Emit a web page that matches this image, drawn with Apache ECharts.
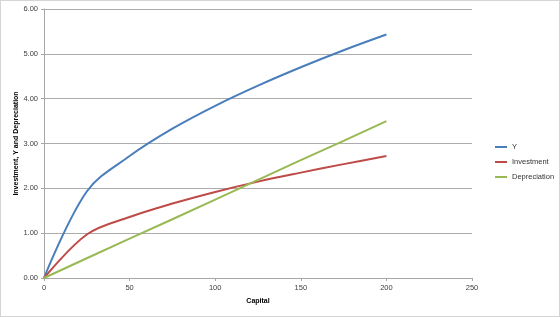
<!DOCTYPE html>
<html>
<head>
<meta charset="utf-8">
<script src="https://cdn.jsdelivr.net/npm/echarts@6/dist/echarts.min.js"></script>
<style>
    html, body { margin: 0; padding: 0; background: #fff; }
    #chart { width: 560px; height: 317px; box-sizing: border-box; border: 1px solid #d4d4d4; }
</style>
</head>
<body>
<div id="chart"></div>
<script>
// capital values (x) and the three series
var capital = [0, 25, 50, 75, 100, 125, 150, 175, 200];
var yOutput = [0, 1.93, 2.72, 3.33, 3.84, 4.29, 4.70, 5.08, 5.43];
var investment = [0, 0.97, 1.36, 1.66, 1.92, 2.15, 2.35, 2.54, 2.72];
var depreciation = [0, 0.44, 0.88, 1.31, 1.75, 2.19, 2.63, 3.06, 3.50];
var seriesNames = ['Y', 'Investment', 'Depreciation'];

function pairs(vals) {
    return capital.map(function (k, i) { return [k, vals[i]]; });
}

var myChart = echarts.init(document.getElementById('chart'));
var font = '"Liberation Sans", Arial, sans-serif';

var option = {
    animation: false,
    color: ['#4a7ebb', '#be4b48', '#98b954'],
    grid: {left: 43, right: 87, top: 8, bottom: 38, outerBoundsMode: 'none'},
    legend: {
        orient: 'vertical',
        left: 489, top: 137,
        itemWidth: 12, itemHeight: 2, itemGap: 7,
        icon: 'rect',
        textStyle: {fontFamily: font, fontSize: 7.5, color: '#333'},
        data: seriesNames
    },
    xAxis: {
        type: 'value',
        min: 0, max: 250, interval: 50,
        name: 'Capital',
        nameLocation: 'middle',
        nameGap: 20,
        nameMoveOverlap: false,
        nameTextStyle: {fontFamily: font, fontSize: 7, fontWeight: 'bold', color: '#000'},
        axisLine: {lineStyle: {color: '#a6a6a6'}},
        axisTick: {show: true, length: 3, lineStyle: {color: '#a6a6a6'}},
        axisLabel: {fontFamily: font, fontSize: 7.5, color: '#404040', margin: 6},
        splitLine: {show: false}
    },
    yAxis: {
        type: 'value',
        min: 0, max: 6, interval: 1,
        name: 'Investment, Y and Depreciation',
        nameLocation: 'middle',
        nameGap: 24,
        nameMoveOverlap: false,
        nameTextStyle: {fontFamily: font, fontSize: 7, fontWeight: 'bold', color: '#000'},
        axisLine: {show: true, lineStyle: {color: '#a6a6a6'}},
        axisTick: {show: true, length: 3, lineStyle: {color: '#a6a6a6'}},
        axisLabel: {
            fontFamily: font, fontSize: 7.5, color: '#404040', margin: 6,
            formatter: function (v) { return v.toFixed(2); }
        },
        splitLine: {lineStyle: {color: '#acacac'}}
    },
    series: [
        {name: seriesNames[0], type: 'line', smooth: 0.35, showSymbol: false, lineStyle: {width: 2}, data: pairs(yOutput)},
        {name: seriesNames[1], type: 'line', smooth: 0.35, showSymbol: false, lineStyle: {width: 2}, data: pairs(investment)},
        {name: seriesNames[2], type: 'line', smooth: false, showSymbol: false, lineStyle: {width: 2}, data: pairs(depreciation)}
    ]
};

myChart.setOption(option);
</script>
</body>
</html>
